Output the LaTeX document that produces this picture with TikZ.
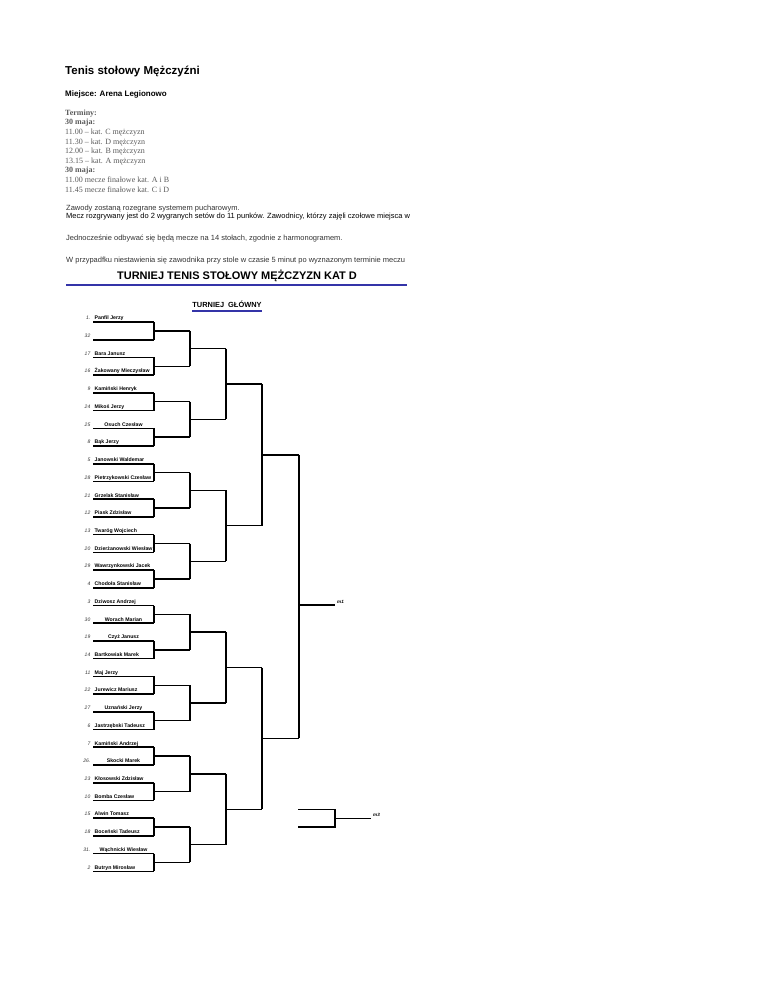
\documentclass[tikz,border=0pt]{standalone}
\usepackage{fontspec}
\setmainfont{Liberation Sans}
\newfontfamily\serifnote{Liberation Serif}
\usepackage{tikz}
\usetikzlibrary{positioning}
\definecolor{ink}{HTML}{000000}
\definecolor{grey}{HTML}{5A5A5A}
\definecolor{darktext}{HTML}{333333}
\definecolor{barblue}{HTML}{3434A8}

\begin{document}
\begin{tikzpicture}[x=1pt,y=-1pt,
  slot/.style={line width=1.6pt,draw=ink},
  wire/.style={line width=1.4pt,draw=ink},
  rule/.style={line width=2pt,draw=barblue},
  line/.style={anchor=base west,inner sep=0pt,font=\fontsize{7.5}{8}\selectfont},
  seed/.style={anchor=base east,inner sep=0pt,text=darktext,font=\fontsize{5}{6}\selectfont\itshape},
  player/.style={anchor=base west,inner sep=0pt,font=\fontsize{5.2}{6}\selectfont\bfseries},
  tag/.style={anchor=base west,inner sep=0pt,font=\fontsize{4.6}{5}\selectfont\bfseries\itshape}]

  \useasboundingbox (0,0) rectangle (768,994);

  % header
  \node[anchor=base west,inner sep=0pt,font=\fontsize{11.5}{13}\selectfont\bfseries] (head) at (65,74)
    {Tenis stołowy Mężczyźni};
  \node[anchor=base west,inner sep=0pt,font=\fontsize{8}{10}\selectfont\bfseries] (place) at (65,96)
    {Miejsce: Arena Legionowo};
  \node[anchor=north west,inner sep=0pt,align=left,text=grey,
        font=\serifnote\fontsize{8}{9.6}\selectfont] (dates) at (65,109.6)
    {\textbf{Terminy:}\\ \textbf{30 maja:}\\ 11.00 – kat. C mężczyzn\\ 11.30 – kat. D mężczyzn\\
     12.00 – kat. B mężczyzn\\ 13.15 – kat. A mężczyzn\\ \textbf{30 maja:}\\
     11.00 mecze finałowe kat. A i B\\ 11.45 mecze finałowe kat. C i D};

  \node[line,text=darktext] (rules1) at (66,210.5) {Zawody zostaną rozegrane systemem pucharowym.};
  \node[line] (rules2) at (66,218.5)
    {Mecz rozgrywany jest do 2 wygranych setów do 11 punków. Zawodnicy, którzy zajęli czołowe miejsca w};
  \node[line,text=darktext] (rules3) at (66,240.5)
    {Jednocześnie odbywać się będą mecze na 14 stołach, zgodnie z harmonogramem.};
  \node[line,text=darktext] (rules4) at (66,262)
    {W przypadfku niestawienia się zawodnika przy stole w czasie 5 minut po wyznazonym terminie meczu};

  % title
  \node[anchor=base,inner sep=0pt,font=\fontsize{11}{13}\selectfont\bfseries] (title) at (237,279)
    {TURNIEJ TENIS STOŁOWY MĘŻCZYZN KAT D};
  \coordinate (barL) at (66,285);
  \coordinate (barR) at (407,285);
  \draw[rule] (barL) -- (barR);
  \node[anchor=base,inner sep=0pt,font=\fontsize{7.4}{9}\selectfont\bfseries] (main) at (227,307.5)
    {TURNIEJ\ \ GŁÓWNY};
  \draw[rule,line width=1.6pt] ([yshift=-3.5pt]main.base west) -- ([yshift=-3.5pt]main.base east);

  % first round
  \foreach \s/\n/\c [count=\i from 0] in {
      1./Panfil Jerzy/0, 32//0, 17/Bara Janusz/0, 16/Żakowany Mieczysław/0,
      9/Kamiński Henryk/0, 24/Mikoś Jerzy/0, 25/Osuch Czesław/1, 8/Bąk Jerzy/0,
      5/Janowski Waldemar/0, 28/Pietrzykowski Czesław/0, 21/Grzelak Stanisław/0, 12/Piask Zdzisław/0,
      13/Twaróg Wojciech/0, 20/Dzierżanowski Wiesław/0, 29/Wawrzynkowski Jacek/0, 4/Chodoła Stanisław/0,
      3/Dziwosz Andrzej/0, 30/Worach Marian/1, 19/Czyż Janusz/1, 14/Bartkowiak Marek/0,
      11/Maj Jerzy/0, 22/Jurewicz Mariusz/0, 27/Uznański Jerzy/1, 6/Jastrzębski Tadeusz/0,
      7/Kamiński Andrzej/0, 26./Skocki Marek/1, 23/Kłosowski Zdzisław/0, 10/Bomba Czesław/0,
      15/Alwin Tomasz/0, 18/Boceński Tadeusz/0, 31./Wąchnicki Wiesław/1, 2/Butryn Mirosław/0} {
    \pgfmathsetmacro\y{322+\i*17.72}
    \coordinate (a\i) at (93,\y);
    \coordinate (p\i) at (154,\y);
    \draw[slot] (a\i) -- (p\i);
    \node[seed] (s\i) at (90.5,\y-2.2) {\s};
    \ifnum\c=0
      \node[player] (n\i) at (94.5,\y-2.2) {\n};
    \else
      \node[player,anchor=base] (n\i) at (123.5,\y-2.2) {\n};
    \fi
  }

  % later rounds
  \foreach \k [evaluate=\k as \u using int(2*\k), evaluate=\k as \v using int(2*\k+1)] in {0,...,15} {
    \coordinate (j1-\k) at (190,{322+(2*\k+0.5)*17.72});
    \draw[wire] (p\u) |- (j1-\k);
    \draw[wire] (p\v) |- (j1-\k);
  }
  \foreach \k [evaluate=\k as \u using int(2*\k), evaluate=\k as \v using int(2*\k+1)] in {0,...,7} {
    \coordinate (j2-\k) at (226,{322+(4*\k+1.5)*17.72});
    \draw[wire] (j1-\u) |- (j2-\k);
    \draw[wire] (j1-\v) |- (j2-\k);
  }
  \foreach \k [evaluate=\k as \u using int(2*\k), evaluate=\k as \v using int(2*\k+1)] in {0,...,3} {
    \coordinate (j3-\k) at (262,{322+(8*\k+3.5)*17.72});
    \draw[wire] (j2-\u) |- (j3-\k);
    \draw[wire] (j2-\v) |- (j3-\k);
  }
  \foreach \k [evaluate=\k as \u using int(2*\k), evaluate=\k as \v using int(2*\k+1)] in {0,1} {
    \coordinate (j4-\k) at (299,{322+(16*\k+7.5)*17.72});
    \draw[wire] (j3-\u) |- (j4-\k);
    \draw[wire] (j3-\v) |- (j4-\k);
  }

  % final
  \coordinate (fin) at (335,605);
  \draw[wire] (j4-0) -- (j4-1);
  \draw[wire] (j4-0 |- fin) -- (fin);
  \node[tag] (m1) at (337,603.5) {m1};

  % third place
  \coordinate (t1) at (298,809.4);
  \coordinate (t2) at (298,827.1);
  \coordinate (tj) at (335,818.2);
  \coordinate (tfin) at (371,818.2);
  \draw[wire] (t1) -| (tj);
  \draw[wire] (t2) -| (tj);
  \draw[wire] (tj) -- (tfin);
  \node[tag] (m3) at (373,816.5) {m3};
\end{tikzpicture}
\end{document}
